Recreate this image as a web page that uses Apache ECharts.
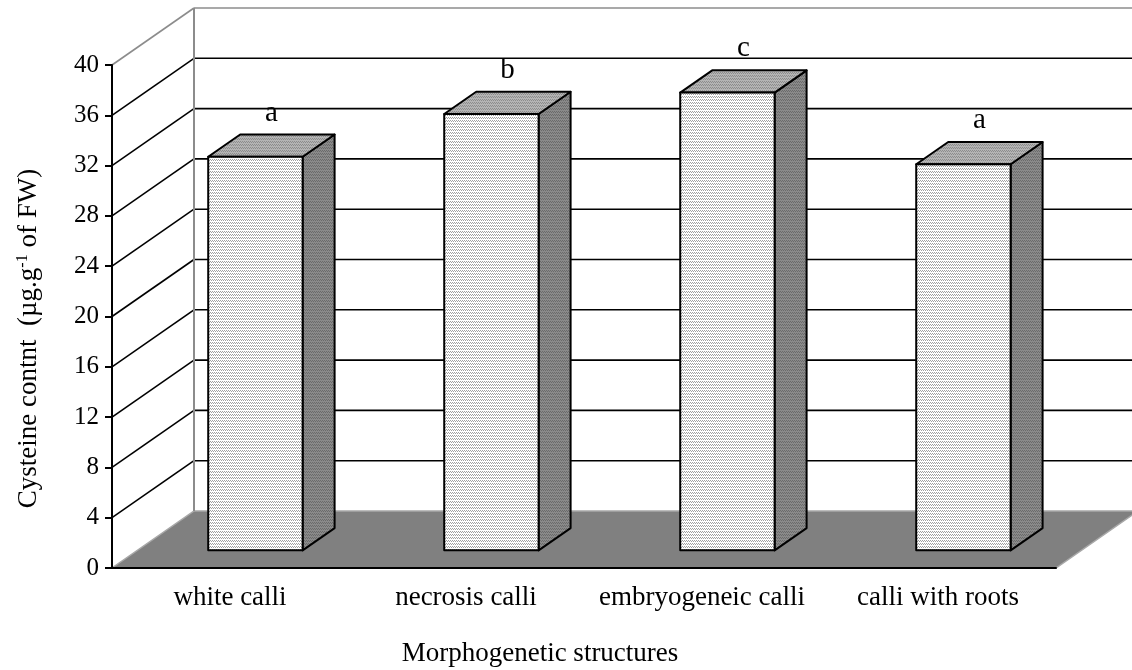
<!DOCTYPE html>
<html>
<head>
<meta charset="utf-8">
<script src="https://cdn.jsdelivr.net/npm/echarts@6/dist/echarts.min.js"></script>
<style>
  html, body { margin: 0; padding: 0; background: #fff; }
  #chart { width: 1132px; height: 670px; }
</style>
</head>
<body>
<div id="chart"></div>
<script>
// data
const categories = ['white calli', 'necrosis calli', 'embryogeneic calli', 'calli with roots'];
const cysteine = [31.3, 34.7, 36.4, 30.7];
const letters = ['a', 'b', 'c', 'a'];
const yTicks = [0, 4, 8, 12, 16, 20, 24, 28, 32, 36, 40];

// fake 3D: how far the back wall sits from the front plane
const DEPTH_X = 82, DEPTH_Y = -57;
const BAR_FRONT = 0.31, BAR_BACK = 0.70;
const FONT = '"Liberation Serif", "Times New Roman", serif';

function makePattern(bg, line) {
    const c = document.createElement('canvas');
    c.width = 4;
    c.height = 3;
    const ctx = c.getContext('2d');
    ctx.fillStyle = bg;
    ctx.fillRect(0, 0, 4, 3);
    ctx.fillStyle = line;
    // little zigzag, looks like the excel hatch
    ctx.fillRect(0, 0, 1, 1);
    ctx.fillRect(1, 1, 1, 1);
    ctx.fillRect(2, 0, 1, 1);
    ctx.fillRect(3, 1, 1, 1);
    return { type: 'pattern', image: c, repeat: 'repeat' };
}

const frontFill = makePattern('#ffffff', '#a0a0a0');
const topFill = makePattern('#b4b4b4', '#8c8c8c');
const sideFill = makePattern('#8a8a8a', '#6a6a6a');

function renderFloor(params, api) {
    const cs = params.coordSys;
    const y0 = api.coord([0, 0])[1];
    const xl = cs.x, xr = cs.x + cs.width;
    return {
        type: 'polygon',
        shape: { points: [[xl, y0], [xr, y0], [xr + DEPTH_X, y0 + DEPTH_Y], [xl + DEPTH_X, y0 + DEPTH_Y]] },
        style: { fill: '#808080', stroke: '#a8a8a8', lineWidth: 1.5 }
    };
}

function renderWall(params, api) {
    const cs = params.coordSys;
    const v = api.value(0);
    const y = api.coord([0, v])[1];
    const xl = cs.x;
    const edge = v === 0 || v === yTicks[yTicks.length - 1];
    const color = edge ? '#8c8c8c' : '#000';
    const children = [];
    if (v !== 0) {
        children.push({
            type: 'line',
            shape: { x1: xl, y1: y, x2: xl + DEPTH_X, y2: y + DEPTH_Y },
            style: { stroke: color, lineWidth: 1.6 }
        });
        children.push({
            type: 'line',
            shape: { x1: xl + DEPTH_X, y1: y + DEPTH_Y, x2: xl + cs.width + DEPTH_X + 20, y2: y + DEPTH_Y },
            style: { stroke: color, lineWidth: 1.6 }
        });
    }
    if (v === yTicks[yTicks.length - 1]) {
        const y0 = api.coord([0, 0])[1];
        children.push({
            type: 'line',
            shape: { x1: xl + DEPTH_X, y1: y + DEPTH_Y, x2: xl + DEPTH_X, y2: y0 + DEPTH_Y },
            style: { stroke: '#8c8c8c', lineWidth: 2 }
        });
    }
    return { type: 'group', children };
}

function renderBar(params, api) {
    const i = api.value(0);
    const v = api.value(1);
    const base = api.coord([i, 0]);
    const top = api.coord([i, v]);
    const band = api.size([1, 0])[0];
    const w = band * 0.4;
    const fx = DEPTH_X * BAR_FRONT, fy = DEPTH_Y * BAR_FRONT;
    const sx = DEPTH_X * (BAR_BACK - BAR_FRONT), sy = DEPTH_Y * (BAR_BACK - BAR_FRONT);
    const x1 = base[0] - w / 2 + fx, x2 = x1 + w;
    const yb = base[1] + fy, yt = top[1] + fy;
    const edge = { stroke: '#000', lineWidth: 2, lineJoin: 'round' };
    return {
        type: 'group',
        children: [
            {
                type: 'polygon',
                shape: { points: [[x2, yt], [x2 + sx, yt + sy], [x2 + sx, yb + sy], [x2, yb]] },
                style: Object.assign({ fill: sideFill }, edge)
            },
            {
                type: 'polygon',
                shape: { points: [[x1, yt], [x2, yt], [x2 + sx, yt + sy], [x1 + sx, yt + sy]] },
                style: Object.assign({ fill: topFill }, edge)
            },
            {
                type: 'rect',
                shape: { x: x1, y: yt, width: w, height: yb - yt },
                style: Object.assign({ fill: frontFill }, edge)
            },
            {
                type: 'text',
                style: {
                    x: (x1 + x2) / 2 + sx / 2,
                    y: yt + sy - 7,
                    text: letters[i],
                    align: 'center',
                    verticalAlign: 'bottom',
                    font: '29px ' + FONT,
                    fill: '#000'
                }
            }
        ]
    };
}

const chart = echarts.init(document.getElementById('chart'), null, { renderer: 'canvas' });

chart.setOption({
    animation: false,
    backgroundColor: '#fff',
    grid: { left: 112, right: 76, top: 65, bottom: 102, outerBoundsMode: 'none' },
    xAxis: {
        type: 'category',
        data: categories,
        name: 'Morphogenetic structures',
        nameLocation: 'middle',
        nameGap: 72,
        nameTextStyle: { fontFamily: FONT, fontSize: 27, color: '#000', padding: [0, 88, 0, 0] },
        axisLine: { lineStyle: { color: '#000', width: 2 } },
        axisTick: { length: 7, lineStyle: { color: '#000', width: 2 } },
        axisLabel: { interval: 0, fontFamily: FONT, fontSize: 27, color: '#000', margin: 16 },
        z: 5
    },
    yAxis: {
        type: 'value',
        min: 0,
        max: 40,
        interval: 4,
        name: 'Cysteine contnt  (µg.g{sup|-1} of FW)',
        nameLocation: 'middle',
        nameGap: 70,
        nameRotate: 90,
        nameTextStyle: {
            fontFamily: FONT, fontSize: 27, color: '#000', padding: [0, 44, 0, 0],
            rich: { sup: { fontFamily: FONT, fontSize: 16, color: '#000', verticalAlign: 'top', padding: [0, 0, 10, 0] } }
        },
        axisLine: { show: true, lineStyle: { color: '#000', width: 2 } },
        axisTick: { show: true, length: 7, lineStyle: { color: '#000', width: 2 } },
        axisLabel: { fontFamily: FONT, fontSize: 25, color: '#000', margin: 13 },
        splitLine: { show: false },
        z: 5
    },
    series: [
        {
            type: 'custom',
            name: 'floor',
            z: 1,
            silent: true,
            data: [[0]],
            renderItem: renderFloor
        },
        {
            type: 'custom',
            name: 'walls',
            z: 2,
            silent: true,
            data: yTicks.map(t => [t]),
            encode: { y: 0 },
            renderItem: renderWall
        },
        {
            type: 'custom',
            name: 'cysteine',
            z: 3,
            data: cysteine.map((v, i) => [i, v]),
            encode: { x: 0, y: 1 },
            renderItem: renderBar
        }
    ]
});
</script>
</body>
</html>
